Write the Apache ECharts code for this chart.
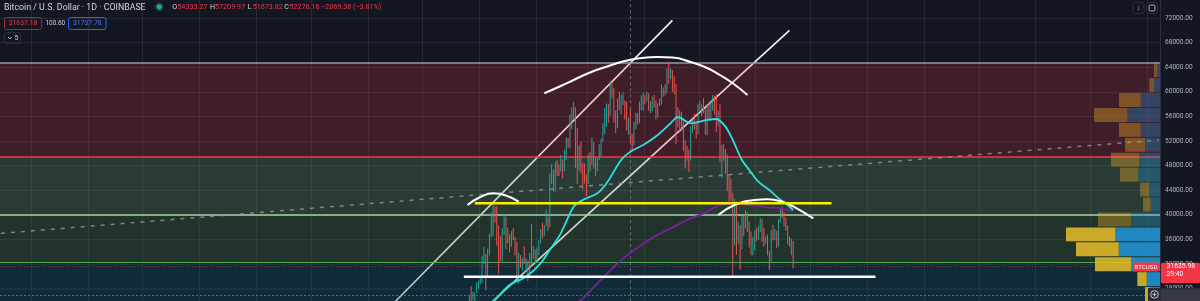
<!DOCTYPE html>
<html><head><meta charset="utf-8">
<script src="https://cdn.jsdelivr.net/npm/echarts@6/dist/echarts.min.js"></script>
<style>html,body{margin:0;padding:0;background:#131722;overflow:hidden;width:1200px;height:301px}#c{position:absolute;left:0;top:-7px;width:1200px;height:321px}</style>
</head><body><div id="c"></div>
<script>
// ---------- categories (daily) ----------
const catStart = '2020-04-14';
const catCount = 634;
// ---------- candles: daily from 2020-12-20 ----------
const candleStart = '2020-12-20';
const open = [23850,23480,22720,23820,23250,23720,24690,26440,26250,27050,27370,28880,
28990,29410,32200,33000,32030,34050,36860,39490,40670,40240,38240,35550,34010,37390,39150,36770,36020,35800,36630,35920,35490,30850,33000,32080,32270,32250,32510,30400,33420,34280,34300,
33110,33520,35500,37660,36950,38290,39250,38900,46400,46500,44850,47980,47400,47200,48700,48000,49200,52150,51600,55900,55900,57400,54100,48900,49700,47100,46300,46200,
45200,49600,48400,50500,48400,48800,48900,51000,52400,54900,56000,57800,57300,61200,59000,55600,56900,58900,57700,58100,58100,57400,54100,54333,52276,51300,55100,55850,55800,57600,58800,
58800,58750,59000,57100,58200,59100,58000,56000,58100,58100,59800,59900,59800,63600,62950,63200,61400,60100,56200,55700,56500,53800,51700,51200,50100,49000,54000,55000,54800,53600,
57700,57800,56600,57200,53200,57500,56400,57400,58900,58300,55800,56700,49400,49700,49900,46800,46400,43600,42900,37000,40600,37300,37500,34700,38800,38300,39300,38500,35700,34600,35700,
37300,36700,37600,39200,36900,35500,35800,33600,33400,37400,36700,37300,35500,39100,40500,40200,38300,38100,35800,35500,35600];
const high = [24300,24100,23840,24100,23780,24800,26870,28400,27500,27400,28990,29300,
29680,33300,34800,33600,34500,36950,40370,41950,41380,41400,38250,36600,37850,40100,39700,37900,36800,37400,37850,36400,35600,33850,33450,32950,34880,32950,32560,33800,38500,34900,34350,
34700,35900,37700,38700,38300,40950,39700,46700,48200,47350,48600,48900,48150,49700,49000,50600,52600,52500,56300,57500,58350,57500,54150,51300,52000,48400,48300,46600,
49800,50200,52600,51800,49400,49200,51500,52400,54900,57400,58100,58000,61700,61650,60600,56950,58950,60000,59500,59900,58600,58400,55800,57210,53200,55100,56600,56550,58400,59400,59800,
59500,60000,59750,58500,59250,59500,58650,58150,58900,61200,60700,61200,63800,64900,63800,63550,62500,61300,57500,57000,56700,55500,52150,51200,50600,54400,55500,56450,55200,58000,
58500,57950,58950,57200,57950,58350,58650,59500,59300,59600,56900,58000,51400,51500,50700,49800,46600,45800,43550,42600,42200,38850,38300,39900,39800,40800,40400,38900,37300,36400,37500,
37900,38200,39500,39300,37900,36500,36800,34100,37500,38400,37700,37400,39300,41000,41300,40500,39500,38200,36450,36100,35750];
const low = [23060,21900,22350,22700,22700,23450,24500,25850,26100,25850,27320,28000,
28690,28950,32000,27700,29900,33400,36350,36500,38720,35000,30420,32500,32400,36700,34400,35400,33900,34800,35900,33400,30100,28850,31400,30900,31950,30830,29240,29850,31950,32850,32300,
32300,33420,35380,36200,36600,38200,37400,37990,45000,43800,43750,46300,46300,47050,45900,47100,48950,50900,50800,53900,55500,47600,45000,47100,46700,44100,45100,43000,
45000,47050,48100,47500,46300,47100,48900,49400,51850,53100,54300,55000,56100,58950,55000,53300,54150,57000,56300,57850,55500,53700,53000,51674,50300,51300,53950,54700,54900,57000,56900,
57950,58450,56900,56500,56800,57400,55500,55800,57700,57900,59200,59400,59800,61300,62050,60000,59600,51500,54200,53400,53600,50400,47500,48800,47000,48800,53300,53900,52400,53100,
57000,56000,56500,53050,52900,55400,55300,56950,56300,53400,54400,48600,46000,48800,46650,43850,42100,42300,30000,35000,33500,35300,31100,34400,36500,37800,37200,34700,33400,33400,34200,
35700,35950,37200,35600,34800,35300,33400,31000,32400,35800,35900,34600,34800,38800,39500,38100,37400,35200,34800,33400,31300];
const close = [23480,22720,23820,23250,23720,24690,26440,26250,27050,27370,28880,28990,
29410,32200,33000,32030,34050,36860,39490,40670,40240,38240,35550,34010,37390,39150,36770,36020,35800,36630,35920,35490,30850,33000,32080,32270,32250,32510,30400,33420,34280,34300,33110,
33520,35500,37660,36950,38290,39250,38900,46400,46500,44850,47980,47400,47200,48700,48000,49200,52150,51600,55900,55900,57400,54100,48900,49700,47100,46300,46200,45200,
49600,48400,50500,48400,48800,48900,51000,52400,54900,56000,57800,57300,61200,59000,55600,56900,58900,57700,58100,58100,57400,54100,54345,52276,51300,55100,55850,55800,57600,58800,58800,
58750,59000,57100,58200,59100,58000,56000,58100,58100,59800,59900,59800,63600,62950,63200,61400,60100,56200,55700,56500,53800,51700,51200,50100,49000,54000,55000,54800,53600,57700,
57800,56600,57200,53200,57500,56400,57400,58900,58300,55800,56700,49400,49700,49900,46800,46400,43600,42900,37000,40600,37300,37500,34700,38800,38300,39300,38500,35700,34600,35700,37300,
36700,37600,39200,36900,35500,35800,33600,33400,37400,36700,37300,35500,39100,40500,40200,38300,38100,35800,35500,35600,31636];

// ---------- moving averages ----------
const maFast = [['2021-01-06',25300],['2021-01-09',26150],['2021-01-17',28580],['2021-01-26',29940],['2021-02-03',32110],['2021-02-08',34280],
['2021-02-14',36990],['2021-02-21',41320],['2021-02-26',42400],['2021-03-06',43500],['2021-03-11',45120],['2021-03-19',48910],['2021-03-24',50260],
['2021-03-31',51350],['2021-04-08',52980],['2021-04-15',54880],['2021-04-19',55900],['2021-04-26',54880],['2021-05-05',55420],['2021-05-10',55580],
['2021-05-15',54330],['2021-05-19',52160],['2021-05-24',48910],['2021-05-28',47290],['2021-06-02',45380],['2021-06-08',44030],['2021-06-13',42680],
['2021-06-18',41590],['2021-06-21',40780]];
const maSlow = [['2021-02-20',25300],['2021-02-25',26150],['2021-03-06',28860],['2021-03-17',32110],['2021-03-26',34280],['2021-04-06',36440],
['2021-04-17',38070],['2021-04-24',39150],['2021-05-03',40240],['2021-05-12',41590],['2021-05-20',41760],['2021-05-29',41590],['2021-06-07',41220],
['2021-06-14',41060],['2021-06-21',40620]];

// ---------- drawings ----------
const channelUpper = [['2020-11-13',25140],['2021-04-16',71610]];
const channelLower = [['2021-01-01',24100],['2021-06-19',69980]];
const bigArc = [['2021-02-05',59760],['2021-02-14',60940],['2021-02-21',61920],['2021-03-02',63140],['2021-03-11',64080],['2021-03-20',64930],
['2021-03-29',65450],['2021-04-08',65660],['2021-04-16',65580],['2021-04-26',64850],['2021-05-05',63870],['2021-05-12',62730],['2021-05-19',61380],['2021-05-27',59480]];
const leftArc = [['2020-12-25',41590],['2021-01-01',42890],['2021-01-08',43500],['2021-01-15',43140],['2021-01-22',42130]];
const rightArc = [['2021-05-11',39970],['2021-05-20',41590],['2021-05-31',42410],['2021-06-07',42520],['2021-06-15',42130],['2021-06-22',41220],['2021-07-02',39430]];
const yellowLevel = [['2020-12-29',41870],['2021-07-12',41870]];
const supportLevel = [['2020-12-23',29930],['2021-08-05',29930]];
const trendDashed = [['2020-04-14',36990],['2022-01-07',52160]];
const crosshairDate = '2021-03-24';

// ---------- zones ----------
const zoneTop = 64730, zoneRed = 49450, zoneLight = 40000, zoneGreen = 32300;
const lastPrice = 31635.98, lowMarker = 26972.84;

// ---------- visible range volume profile ----------
const profileEdges = [64730,62300,59880,57450,55020,52600,50170,47740,45310,42890,40460,38030,35610,33180,30750,28330,25900];
const profileUp   = [27,60,193,327,193,150,210,217,107,93,290,447,413,290,133,100];
const profileDown = [33,47,217,333,217,200,280,183,93,77,330,493,427,360,94,50];
const valueArea   = [0,0,0,0,0,0,0,0,0,0,0,1,1,1,1,1];

// ---------- axis ----------
const yMin = 24000, yMax = 76000, yStep = 4000;

// page offset of the chart canvas (it is taller than the window, see CSS)
const OFF = 7;

// build categories
const categories = [];
{ const t0 = Date.parse(catStart + 'T00:00:00Z');
  for (let i = 0; i < catCount; i++) categories.push(new Date(t0 + i * 86400000).toISOString().slice(0, 10)); }
const c0 = categories.indexOf(candleStart);
const candleData = categories.map((c, i) => {
  const k = i - c0;
  if (k < 0 || k >= close.length) return '-';
  return [open[k], close[k], low[k], high[k]];
});

const zonesData = [
  [0, zoneRed, zoneTop, 0],
  [0, zoneLight, zoneRed, 1],
  [0, zoneGreen, zoneLight, 2],
  [0, 20000, zoneGreen, 3]
];
const zoneFill = ['rgba(242,54,69,0.2)', 'rgba(111,163,110,0.25)', 'rgba(75,135,70,0.25)', 'rgba(7,103,118,0.25)'];

const profileData = profileUp.map((u, i) => [u, profileDown[i], profileEdges[i + 1], profileEdges[i], valueArea[i]]);

const gridBox = { left: 0, right: 40, top: 0.4, bottom: 0.8 };
const gridLineColor = 'rgba(255,255,255,0.075)';

function lineSeries(name, data, color, width, z, extra) {
  return Object.assign({
    name, type: 'line', data, symbol: 'none', z, silent: true, clip: true,
    lineStyle: { color, width }, animation: false
  }, extra || {});
}

const chart = echarts.init(document.getElementById('c'), null, { renderer: 'canvas', width: 1200, height: 321 });

chart.setOption({
  animation: false,
  backgroundColor: '#131722',
  grid: [Object.assign({}, gridBox), Object.assign({}, gridBox)],
  xAxis: [{
    type: 'category', data: categories, boundaryGap: true, gridIndex: 0,
    axisLine: { show: false }, axisTick: { show: false }, axisLabel: { show: false },
    splitLine: { show: true, interval: (i, v) => v.slice(8) === '01', lineStyle: { color: gridLineColor, width: 1 } }
  }, {
    type: 'value', gridIndex: 1, inverse: true, min: 0, max: 11600, show: false
  }],
  yAxis: [{
    type: 'value', position: 'right', min: yMin, max: yMax, interval: yStep, gridIndex: 0,
    axisLine: { show: true, lineStyle: { color: '#2a2e39', width: 1 } },
    axisTick: { show: false },
    axisLabel: { show: true, color: '#b2b5be', fontSize: 6.6, fontFamily: 'Roboto', margin: 5, align: 'left',
      formatter: v => v.toFixed(2), showMinLabel: false, showMaxLabel: false },
    splitLine: { show: true, lineStyle: { color: gridLineColor, width: 1 } }
  }, {
    type: 'value', gridIndex: 1, min: yMin, max: yMax, show: false
  }],
  series: [
    lineSeries('channelUpper', channelUpper, 'rgba(255,255,255,0.95)', 1.6, 1),
    lineSeries('channelLower', channelLower, 'rgba(255,255,255,0.95)', 1.6, 1),
    {
      name: 'zones', type: 'custom', z: 2, silent: true, data: zonesData,
      encode: { x: 0, y: [1, 2] },
      renderItem: (params, api) => {
        const cs = params.coordSys;
        const yT = api.coord([0, api.value(2)])[1];
        const yB = api.coord([0, api.value(1)])[1];
        return { type: 'rect', shape: { x: cs.x, y: yT, width: cs.width, height: yB - yT }, style: { fill: zoneFill[api.value(3)] } };
      },
      markLine: {
        silent: true, symbol: 'none', label: { show: false }, z: 3,
        data: [
          { yAxis: zoneTop, lineStyle: { color: '#9598a1', width: 1.5, type: 'solid' } },
          { yAxis: zoneRed, lineStyle: { color: '#f23645', width: 1.5, type: 'solid' } },
          { yAxis: zoneLight, lineStyle: { color: '#a5d6a7', width: 1.5, type: 'solid' } },
          { yAxis: zoneGreen, lineStyle: { color: '#4caf50', width: 1, type: 'solid' } },
          { yAxis: lastPrice, lineStyle: { color: 'rgba(242,54,69,0.6)', width: 1, type: [1, 2] } },
          { yAxis: lowMarker, lineStyle: { color: 'rgba(149,152,161,0.6)', width: 1, type: [2, 2] } }
        ]
      }
    },
    lineSeries('trend', trendDashed, 'rgba(149,152,161,0.8)', 1.5, 4, { lineStyle: { color: 'rgba(149,152,161,0.8)', width: 1.5, type: [4, 6] } }),
    {
      name: 'BTCUSD', type: 'candlestick', data: candleData, z: 5, clip: true, barWidth: '80%',
      itemStyle: { color: '#26a69a', color0: '#ef5350', borderColor: '#26a69a', borderColor0: '#ef5350', borderWidth: 1 },
      markLine: {
        silent: true, symbol: 'none', label: { show: false },
        data: [{ xAxis: crosshairDate, lineStyle: { color: 'rgba(149,152,161,0.6)', width: 1, type: [3, 3] } }]
      }
    },
    lineSeries('MA slow', maSlow, '#7b1fa2', 1.8, 6, { smooth: 0.3 }),
    lineSeries('MA fast', maFast, '#2fe0dc', 1.8, 6, { smooth: 0.3 }),
    lineSeries('bigArc', bigArc, '#ffffff', 2, 7, { smooth: 0.5 }),
    lineSeries('leftArc', leftArc, '#ffffff', 2, 7, { smooth: 0.5 }),
    lineSeries('rightArc', rightArc, '#ffffff', 2, 7, { smooth: 0.5 }),
    lineSeries('yellow', yellowLevel, '#f5f10a', 2.5, 7),
    lineSeries('support', supportLevel, '#ffffff', 2.5, 7),
    {
      name: 'profile', type: 'custom', xAxisIndex: 1, yAxisIndex: 1, z: 8, silent: true,
      data: profileData, encode: { x: [0, 1], y: [2, 3] },
      renderItem: (params, api) => {
        const up = api.value(0), dn = api.value(1), lo = api.value(2), hi = api.value(3), va = api.value(4);
        const yT = api.coord([0, hi])[1] + 0.5, yB = api.coord([0, lo])[1] - 0.5;
        const x0 = api.coord([0, lo])[0], x1 = api.coord([up, lo])[0], x2 = api.coord([up + dn, lo])[0];
        return { type: 'group', children: [
          { type: 'rect', shape: { x: x1, y: yT, width: x0 - x1, height: yB - yT }, style: { fill: va ? 'rgba(33,150,220,0.85)' : 'rgba(33,150,220,0.33)' } },
          { type: 'rect', shape: { x: x2, y: yT, width: x1 - x2, height: yB - yT }, style: { fill: va ? 'rgba(232,192,40,0.85)' : 'rgba(232,170,40,0.38)' } }
        ] };
      }
    }
  ]
});

// ---------- overlay texts (legend, price labels) ----------
const yLast = chart.convertToPixel({ yAxisIndex: 0 }, lastPrice);
const yLow = chart.convertToPixel({ yAxisIndex: 0 }, lowMarker);
const F = 'Roboto';
const g = [];
function txt(x, y, text, fill, size, align, weight) {
  g.push({ type: 'text', x, y, z: 100, silent: true,
    style: { text, fill, fontSize: size, fontFamily: F, fontWeight: weight || 'normal', textAlign: align || 'left', textVerticalAlign: 'middle' } });
}
txt(4, OFF + 7.5, 'Bitcoin / U.S. Dollar · 1D · COINBASE', '#d1d4dc', 8.8);
g.push({ type: 'circle', z: 100, shape: { cx: 159.3, cy: OFF + 6.8, r: 4.5 }, style: { fill: 'rgba(34,171,148,0.25)' } });
g.push({ type: 'circle', z: 101, shape: { cx: 159.3, cy: OFF + 6.8, r: 2.6 }, style: { fill: '#22ab94' } });
const ohlc = [['O', '54333.27', 172.3], ['H', '57209.97', 210], ['L', '51673.82', 247.7], ['C', '52276.16', 284.3]];
ohlc.forEach(([k, v, x]) => {
  txt(x, OFF + 7.5, k, '#d1d4dc', 7.2);
  txt(x + 5, OFF + 7.5, v, '#f23645', 7.2);
});
txt(321, OFF + 7.5, '−2069.38 (−3.81%)', '#f23645', 7.2);
// row 2
g.push({ type: 'rect', z: 100, shape: { x: 4.5, y: OFF + 17.5, width: 37, height: 12, r: 2 }, style: { fill: 'none', stroke: '#a8262f', lineWidth: 1 } });
txt(23, OFF + 23.5, '31637.18', '#f23645', 6.8, 'center');
txt(45.5, OFF + 23.5, '100.60', '#d1d4dc', 6.4);
g.push({ type: 'rect', z: 100, shape: { x: 68.5, y: OFF + 17.5, width: 37.5, height: 12, r: 2 }, style: { fill: 'none', stroke: '#2962ff', lineWidth: 1 } });
txt(87.3, OFF + 23.5, '31737.78', '#4d7cff', 6.8, 'center');
// row 3
g.push({ type: 'rect', z: 100, shape: { x: 4.5, y: OFF + 32.5, width: 16, height: 11, r: 2 }, style: { fill: 'none', stroke: '#2a2e39', lineWidth: 1 } });
g.push({ type: 'polyline', z: 100, shape: { points: [[8, OFF + 37], [9.8, OFF + 38.8], [11.6, OFF + 37]] }, style: { stroke: '#d1d4dc', lineWidth: 1, fill: 'none' } });
txt(14.5, OFF + 38, '5', '#d1d4dc', 7);
// top-right buttons
g.push({ type: 'rect', z: 100, shape: { x: 1133, y: OFF + 2.5, width: 11, height: 11, r: 2 }, style: { fill: '#131722', stroke: '#2a2e39', lineWidth: 1 } });
txt(1138.5, OFF + 8, '↓', '#b2b5be', 7.5, 'center');
g.push({ type: 'rect', z: 100, shape: { x: 1146.5, y: OFF + 2.5, width: 11, height: 11, r: 2 }, style: { fill: '#131722', stroke: '#2a2e39', lineWidth: 1 } });
g.push({ type: 'rect', z: 101, shape: { x: 1149, y: OFF + 5, width: 6, height: 6, r: 1.5 }, style: { fill: 'none', stroke: '#b2b5be', lineWidth: 1 } });
// last price labels
g.push({ type: 'rect', z: 100, shape: { x: 1133, y: yLast - 3.7, width: 26, height: 9, r: 1.5 }, style: { fill: '#f23645' } });
txt(1146, yLast + 0.8, 'BTCUSD', '#ffffff', 6.2, 'center');
g.push({ type: 'rect', z: 100, shape: { x: 1161, y: yLast - 3.5, width: 39, height: 20.5, r: 1.5 }, style: { fill: '#f23645' } });
txt(1166.5, yLast, lastPrice.toFixed(2), '#ffffff', 6.8);
txt(1166.5, yLast + 8.5, '39:40', '#ffffff', 6.8);
// low marker label
g.push({ type: 'rect', z: 100, shape: { x: 1148, y: yLow - 7, width: 52, height: 14 }, style: { fill: '#2a2e39' } });
g.push({ type: 'circle', z: 101, shape: { cx: 1154.5, cy: yLow - 0.5, r: 3.8 }, style: { fill: 'none', stroke: '#d1d4dc', lineWidth: 0.9 } });
g.push({ type: 'polyline', z: 101, shape: { points: [[1152.6, yLow - 0.5], [1156.4, yLow - 0.5]] }, style: { stroke: '#d1d4dc', lineWidth: 0.9 } });
g.push({ type: 'polyline', z: 101, shape: { points: [[1154.5, yLow - 2.4], [1154.5, yLow + 1.4]] }, style: { stroke: '#d1d4dc', lineWidth: 0.9 } });
g.push({ type: 'rect', z: 101, shape: { x: 1161, y: yLow - 5, width: 39, height: 11 }, style: { fill: '#363a45' } });
txt(1167, yLow + 0.5, lowMarker.toFixed(2), '#d1d4dc', 6.8);

chart.setOption({ graphic: g });
</script></body></html>
